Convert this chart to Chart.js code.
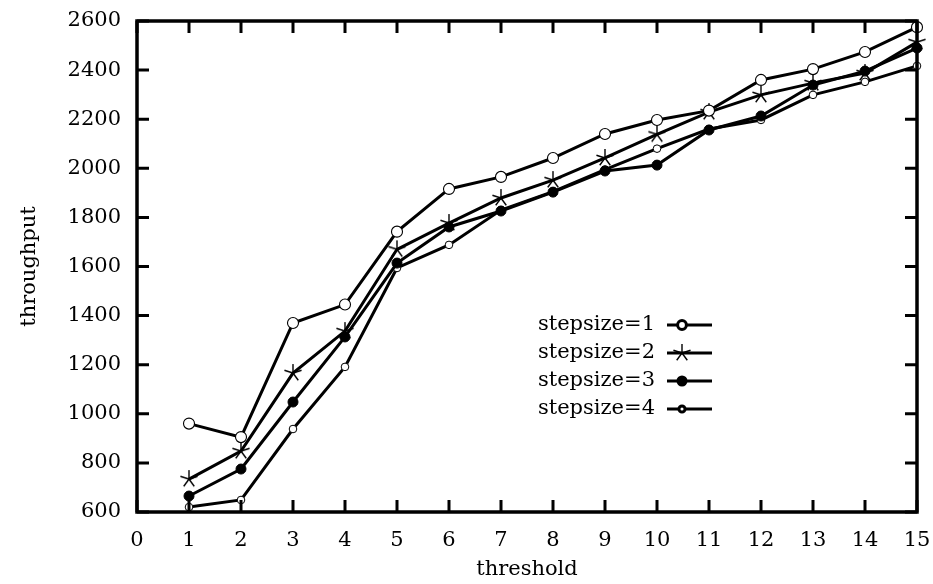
<!DOCTYPE html>
<html>
<head>
<meta charset="utf-8">
<script src="https://cdn.jsdelivr.net/npm/chart.js@4/dist/chart.umd.min.js"></script>
<style>
  html, body { margin: 0; padding: 0; background: #fff; }
  #wrap { width: 933px; height: 584px; }
</style>
</head>
<body>
<div id="wrap"><canvas id="throughputChart" width="933" height="584"></canvas></div>
<script>
const thresholds = [1, 2, 3, 4, 5, 6, 7, 8, 9, 10, 11, 12, 13, 14, 15];
const stepsize1 = [960, 905, 1370, 1445, 1742, 1916, 1965, 2042, 2140, 2197, 2235, 2360, 2404, 2474, 2575];
const stepsize2 = [734, 848, 1166, 1337, 1670, 1777, 1879, 1952, 2042, 2138, 2229, 2299, 2347, 2388, 2514];
const stepsize3 = [665, 775, 1048, 1313, 1614, 1761, 1826, 1903, 1989, 2013, 2156, 2213, 2339, 2396, 2490];
const stepsize4 = [620, 649, 938, 1191, 1594, 1688, 1830, 1905, 1995, 2080, 2160, 2197, 2299, 2352, 2417];
const seriesLabels = ['stepsize=1', 'stepsize=2', 'stepsize=3', 'stepsize=4'];
const xTicks = [0, 1, 2, 3, 4, 5, 6, 7, 8, 9, 10, 11, 12, 13, 14, 15];
const yTicks = [600, 800, 1000, 1200, 1400, 1600, 1800, 2000, 2200, 2400, 2600];

const FONT = '"DejaVu Serif", "Liberation Serif", serif';
const FSIZE = 21;

// five-armed star marker like the old gnuplot one
function makeStar(r) {
    const c = document.createElement('canvas');
    c.width = c.height = r * 2 + 4;
    const g = c.getContext('2d');
    g.strokeStyle = '#000';
    g.lineWidth = 1.4;
    const cx = c.width / 2, cy = c.height / 2;
    for (let k = 0; k < 5; k++) {
        const a = -Math.PI / 2 + k * 2 * Math.PI / 5;
        g.beginPath();
        g.moveTo(cx, cy);
        g.lineTo(cx + r * Math.cos(a), cy + r * Math.sin(a));
        g.stroke();
    }
    return c;
}
const starImg = makeStar(9);

function toPoints(values) {
    return values.map((v, i) => ({ x: thresholds[i], y: v }));
}

const pointOpts = [
    { pointStyle: 'circle', pointRadius: 5.5, pointBackgroundColor: '#fff', pointBorderColor: '#000', pointBorderWidth: 1.1 },
    { pointStyle: starImg, pointRadius: 9, pointBackgroundColor: '#000', pointBorderColor: '#000', pointBorderWidth: 1 },
    { pointStyle: 'circle', pointRadius: 5, pointBackgroundColor: '#000', pointBorderColor: '#000', pointBorderWidth: 1 },
    { pointStyle: 'circle', pointRadius: 3.8, pointBackgroundColor: '#fff', pointBorderColor: '#000', pointBorderWidth: 1 }
];

const allSeries = [stepsize1, stepsize2, stepsize3, stepsize4];
const datasets = allSeries.map((vals, i) => Object.assign({
    label: seriesLabels[i],
    data: toPoints(vals),
    borderColor: '#000',
    borderWidth: 3,
    tension: 0,
    fill: false,
    clip: false
}, pointOpts[i]));

// inward ticks on all four sides plus the heavy frame
const frameTicks = {
    id: 'frameTicks',
    afterDatasetsDraw(chart) {
        const { ctx, chartArea: a, scales } = chart;
        ctx.save();
        ctx.strokeStyle = '#000';
        ctx.lineWidth = 3;
        const len = 12;
        xTicks.forEach(v => {
            const px = scales.x.getPixelForValue(v);
            ctx.beginPath();
            ctx.moveTo(px, a.bottom); ctx.lineTo(px, a.bottom - len);
            ctx.moveTo(px, a.top); ctx.lineTo(px, a.top + len);
            ctx.stroke();
        });
        yTicks.forEach(v => {
            const py = scales.y.getPixelForValue(v);
            ctx.beginPath();
            ctx.moveTo(a.left, py); ctx.lineTo(a.left + len, py);
            ctx.moveTo(a.right, py); ctx.lineTo(a.right - len, py);
            ctx.stroke();
        });
        ctx.lineWidth = 3.5;
        ctx.strokeRect(a.left, a.top, a.right - a.left, a.bottom - a.top);
        ctx.restore();
    }
};

// gnuplot style key: text first, then line sample with marker
const keyBox = {
    id: 'keyBox',
    afterDraw(chart) {
        const { ctx } = chart;
        ctx.save();
        ctx.font = FSIZE + 'px ' + FONT;
        ctx.textAlign = 'right';
        ctx.textBaseline = 'middle';
        chart.data.datasets.forEach((ds, i) => {
            const y = 325 + i * 28;
            ctx.fillStyle = '#000';
            ctx.fillText(ds.label, 655, y);
            ctx.strokeStyle = '#000';
            ctx.lineWidth = 3;
            ctx.beginPath();
            ctx.moveTo(667, y); ctx.lineTo(712, y);
            ctx.stroke();
            ctx.fillStyle = ds.pointBackgroundColor;
            ctx.strokeStyle = ds.pointBorderColor;
            Chart.helpers.drawPoint(ctx, {
                pointStyle: ds.pointStyle,
                radius: ds.pointStyle === 'circle' ? ds.pointRadius * 0.8 : ds.pointRadius,
                borderWidth: ds.pointBorderWidth,
                rotation: 0
            }, 682, y);
        });
        ctx.restore();
    }
};

function noScalePad(s) {
    s.paddingTop = 0;
    s.paddingBottom = 0;
    s.paddingLeft = 0;
    s.paddingRight = 0;
}

const ctx = document.getElementById('throughputChart').getContext('2d');
new Chart(ctx, {
    type: 'line',
    data: { datasets: datasets },
    options: {
        responsive: false,
        animation: false,
        events: [],
        layout: { padding: { top: 21, right: 16, left: 0, bottom: 0 } },
        plugins: {
            legend: { display: false },
            tooltip: { enabled: false }
        },
        scales: {
            x: {
                type: 'linear',
                min: 0,
                max: 15,
                afterBuildTicks: s => { s.ticks = xTicks.map(v => ({ value: v })); },
                afterFit: s => { s.height = 72; noScalePad(s); },
                grid: { display: false, drawTicks: false },
                border: { display: false },
                ticks: { color: '#000', padding: 16, maxRotation: 0, callback: v => String(v), font: { family: FONT, size: FSIZE } },
                title: { display: true, text: 'threshold', color: '#000', padding: { top: 0, bottom: 2 }, font: { family: FONT, size: FSIZE } }
            },
            y: {
                min: 600,
                max: 2600,
                afterBuildTicks: s => { s.ticks = yTicks.map(v => ({ value: v })); },
                afterFit: s => { s.width = 137; noScalePad(s); },
                grid: { display: false, drawTicks: false },
                border: { display: false },
                ticks: { color: '#000', padding: 16, callback: v => String(v), font: { family: FONT, size: FSIZE } },
                title: { display: true, text: 'throughput', color: '#000', padding: { top: 17, bottom: 0 }, font: { family: FONT, size: FSIZE } }
            }
        }
    },
    plugins: [frameTicks, keyBox]
});
</script>
</body>
</html>
